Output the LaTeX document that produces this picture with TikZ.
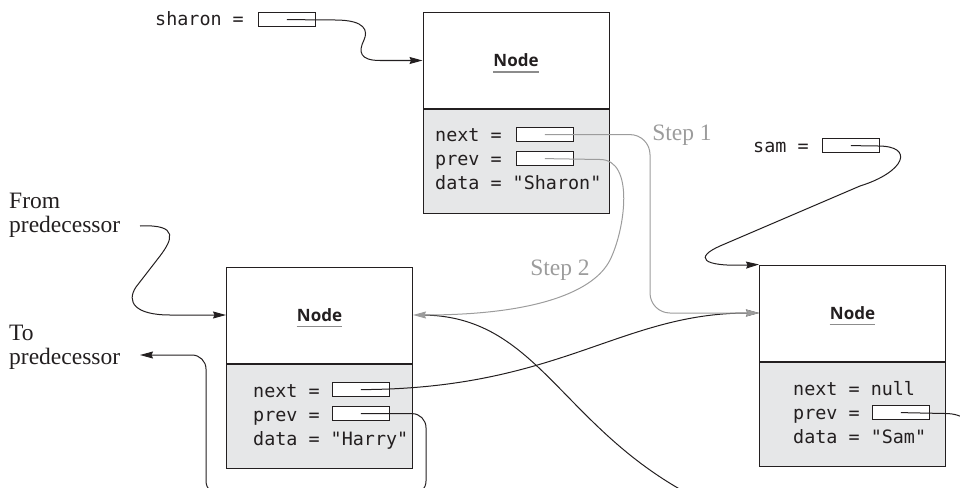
\documentclass[tikz,border=0pt]{standalone}
\usepackage{fontspec}
\usetikzlibrary{positioning,arrows.meta}

\setmainfont{Liberation Serif}
\newfontfamily\codefont[Ligatures=TeXOff]{DejaVu Sans Mono}
\newfontfamily\titlefont{Open Sans}

\definecolor{ink}{HTML}{231F20}
\definecolor{fieldgray}{HTML}{E6E7E8}
\definecolor{stepgray}{HTML}{9C9C9C}
\definecolor{rulegray}{HTML}{8C8C8C}

\tikzset{
  toppart/.style={draw=ink, line width=1pt, minimum width=186pt, minimum height=96pt, inner sep=0pt},
  botpart/.style={toppart, fill=fieldgray, minimum height=104pt},
  nodetitle/.style={font=\titlefont\bfseries\fontsize{17}{20}\selectfont, text=ink, inner sep=0pt},
  fieldtxt/.style={font=\codefont\fontsize{18.4}{24}\selectfont, text=ink, inner sep=0pt, anchor=base west},
  ptrbox/.style={draw=ink, fill=white, line width=0.8pt, minimum width=57pt, minimum height=14pt, inner sep=0pt, anchor=south west},
  ptrline/.style={ink, line width=1pt},
  link/.style={ptrline, -{Stealth[length=13pt,width=7pt,inset=1.5pt]}},
  steplink/.style={link, stepgray},
  steplbl/.style={font=\fontsize{23.5}{26}\selectfont, text=stepgray, inner sep=0pt, anchor=base},
  sidelbl/.style={font=\fontsize{23.5}{24}\selectfont, text=ink, align=left, inner sep=0pt, anchor=west},
  uline/.style={rulegray, line width=1.5pt},
}

\begin{document}
\begin{tikzpicture}[x=1pt, y=-1pt]
\useasboundingbox (0,0) rectangle (960,487);
\clip (0,0) rectangle (960,487);

% Sharon node
\node[toppart] (sharon-top) at (516,60.5) {};
\node[botpart, below=0pt of sharon-top] (sharon-bot) {};
\node[nodetitle] (sharon-ttl) at (sharon-top) {Node};
\draw[uline] ([yshift=-5pt]sharon-ttl.base west) -- ([yshift=-5pt]sharon-ttl.base east);
\node[fieldtxt] (sharon-l1) at (435,141) {next =};
\node[fieldtxt] (sharon-l2) at (435,165) {prev =};
\node[fieldtxt] (sharon-l3) at (435,189) {data = "Sharon"};
\node[ptrbox] (sharon-next) at (516,142) {};
\node[ptrbox] (sharon-prev) at (516,166) {};

% Harry node
\node[toppart] (harry-top) at (319.5,315) {};
\node[botpart, below=0pt of harry-top] (harry-bot) {};
\node[nodetitle] (harry-ttl) at (harry-top) {Node};
\draw[uline] ([yshift=-5pt]harry-ttl.base west) -- ([yshift=-5pt]harry-ttl.base east);
\node[fieldtxt] (harry-l1) at (253,397) {next =};
\node[fieldtxt] (harry-l2) at (253,421) {prev =};
\node[fieldtxt] (harry-l3) at (253,445) {data = "Harry"};
\node[ptrbox] (harry-next) at (332,397) {};
\node[ptrbox] (harry-prev) at (332,421) {};

% Sam node
\node[toppart] (sam-top) at (852.5,313) {};
\node[botpart, below=0pt of sam-top] (sam-bot) {};
\node[nodetitle] (sam-ttl) at (sam-top) {Node};
\draw[uline] ([yshift=-5pt]sam-ttl.base west) -- ([yshift=-5pt]sam-ttl.base east);
\node[fieldtxt] (sam-l1) at (793,395) {next = null};
\node[fieldtxt] (sam-l2) at (793,419) {prev =};
\node[fieldtxt] (sam-l3) at (793,443) {data = "Sam"};
\node[ptrbox] (sam-prev) at (872,420) {};

% reference variables
\node[fieldtxt] (sharon-lbl) at (155,26) {sharon =};
\node[ptrbox] (sharon-ptr) at (258,27) {};
\node[fieldtxt] (sam-lbl) at (753,152) {sam =};
\node[ptrbox] (sam-ptr) at (822,153) {};

% side labels
\node[sidelbl] (from-lbl) at (9,215) {From\\predecessor};
\node[sidelbl] (to-lbl) at (9,347) {To\\predecessor};
\coordinate (from-start) at (140,226);
\coordinate (to-end) at (140,355);
\coordinate (harry-in) at (240,495);

% step labels
\node[steplbl] (step1) at (682,140) {Step 1};
\node[steplbl] (step2) at (560,275) {Step 2};

% links
\draw[link] (sharon-ptr.center) -- (335,20) .. controls (366,20) and (368,31) .. (364,40)
  .. controls (358,52) and (360,60.5) .. (380,60.5) -- (sharon-top.west);
\draw[link] (sam-ptr.center) -- (878,146) .. controls (915,146) and (905,172) .. (860,186)
  -- (720,246) .. controls (695,257) and (700,267) .. (sam-top.north west);
\draw[link] (from-start) .. controls (180,224) and (172,240) .. (160,256) -- (136,287)
  .. controls (126,302) and (135,315) .. (170,315) -- (harry-top.west);
\draw[link, rounded corners=14pt] (harry-in) -| (206,355) -- (to-end);
\draw[ptrline, rounded corners=14pt] (harry-prev.center) -| (426,495) -- (400,495);
\draw[link] (harry-next.center) .. controls (560,389) and (620,313) .. (sam-top.west);
\draw[ptrline] (sam-prev.center) -- (945,413.5) .. controls (955,413.5) and (962,416) .. (968,421);
\draw[ptrline, shorten >=8pt] (700,500) .. controls (560,430) and (540,315) .. (harry-top.east);

% the two new links
\draw[steplink, rounded corners=20pt] (sharon-next.center) -| (650,313) -- (sam-top.west);
\draw[steplink] (sharon-prev.center) -- (600,159.5) .. controls (635,159.5) and (625,230) .. (610,260)
  .. controls (595,290) and (540,315) .. (harry-top.east);

\end{tikzpicture}
\end{document}
